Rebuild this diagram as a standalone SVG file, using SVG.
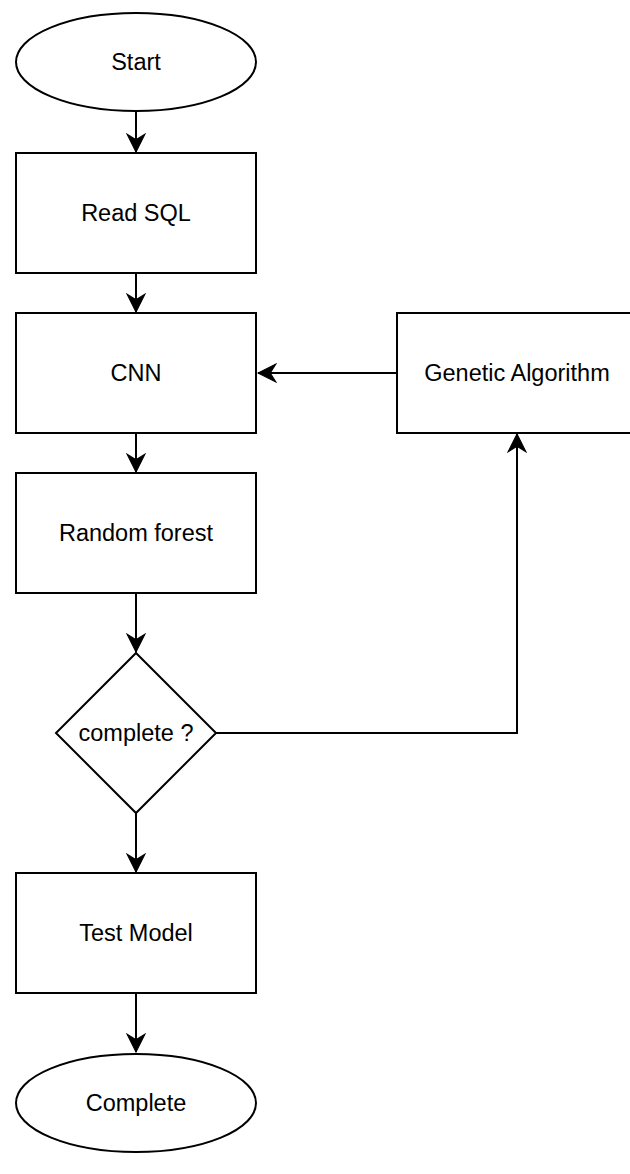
<svg xmlns="http://www.w3.org/2000/svg" width="630" height="1174" viewBox="0 0 630 1174">
  <style>
    .shape { fill: #ffffff; stroke: #000000; stroke-width: 2; }
    .label { font-family: "Liberation Sans", Arial, Helvetica, sans-serif; font-size: 23.5px; fill: #000000; text-anchor: middle; dominant-baseline: central; }
    .edge { fill: none; stroke: #000000; stroke-width: 2; marker-end: url(#arrow); }
  </style>
  <defs>
    <marker id="arrow" markerUnits="userSpaceOnUse" markerWidth="20" markerHeight="20" viewBox="-17 -9 18 18" refX="0" refY="0" orient="auto">
      <path d="M0,0 L-16,-8 L-11,0 L-16,8 Z" fill="#000000" stroke="#000000" stroke-width="1" stroke-linejoin="miter"/>
    </marker>
  </defs>

  <rect width="630" height="1174" fill="#ffffff"/>

  <!-- connectors -->
  <g id="connectors">
    <path class="edge" d="M136,112 L136,152"/>
    <path class="edge" d="M136,273 L136,312"/>
    <path class="edge" d="M136,433 L136,472"/>
    <path class="edge" d="M136,593 L136,652"/>
    <path class="edge" d="M136,813 L136,872"/>
    <path class="edge" d="M136,993 L136,1052"/>
    <path class="edge" d="M397,373 L258,373"/>
    <path class="edge" d="M216,733 L517,733 L517,434"/>
  </g>

  <!-- nodes -->
  <g id="start">
    <ellipse class="shape" cx="136" cy="62" rx="120" ry="49"/>
    <text class="label" x="136" y="62">Start</text>
  </g>
  <g id="read-sql">
    <rect class="shape" x="16" y="153" width="240" height="120"/>
    <text class="label" x="136" y="213">Read SQL</text>
  </g>
  <g id="cnn">
    <rect class="shape" x="16" y="313" width="240" height="120"/>
    <text class="label" x="136" y="373">CNN</text>
  </g>
  <g id="genetic-algorithm">
    <rect class="shape" x="397" y="313" width="240" height="120"/>
    <text class="label" x="517" y="373">Genetic Algorithm</text>
  </g>
  <g id="random-forest">
    <rect class="shape" x="16" y="473" width="240" height="120"/>
    <text class="label" x="136" y="533">Random forest</text>
  </g>
  <g id="decision">
    <polygon class="shape" points="136,653 216,733 136,813 56,733"/>
    <text class="label" x="136" y="733">complete ?</text>
  </g>
  <g id="test-model">
    <rect class="shape" x="16" y="873" width="240" height="120"/>
    <text class="label" x="136" y="933">Test Model</text>
  </g>
  <g id="complete">
    <ellipse class="shape" cx="136" cy="1103" rx="120" ry="49"/>
    <text class="label" x="136" y="1103">Complete</text>
  </g>
</svg>
